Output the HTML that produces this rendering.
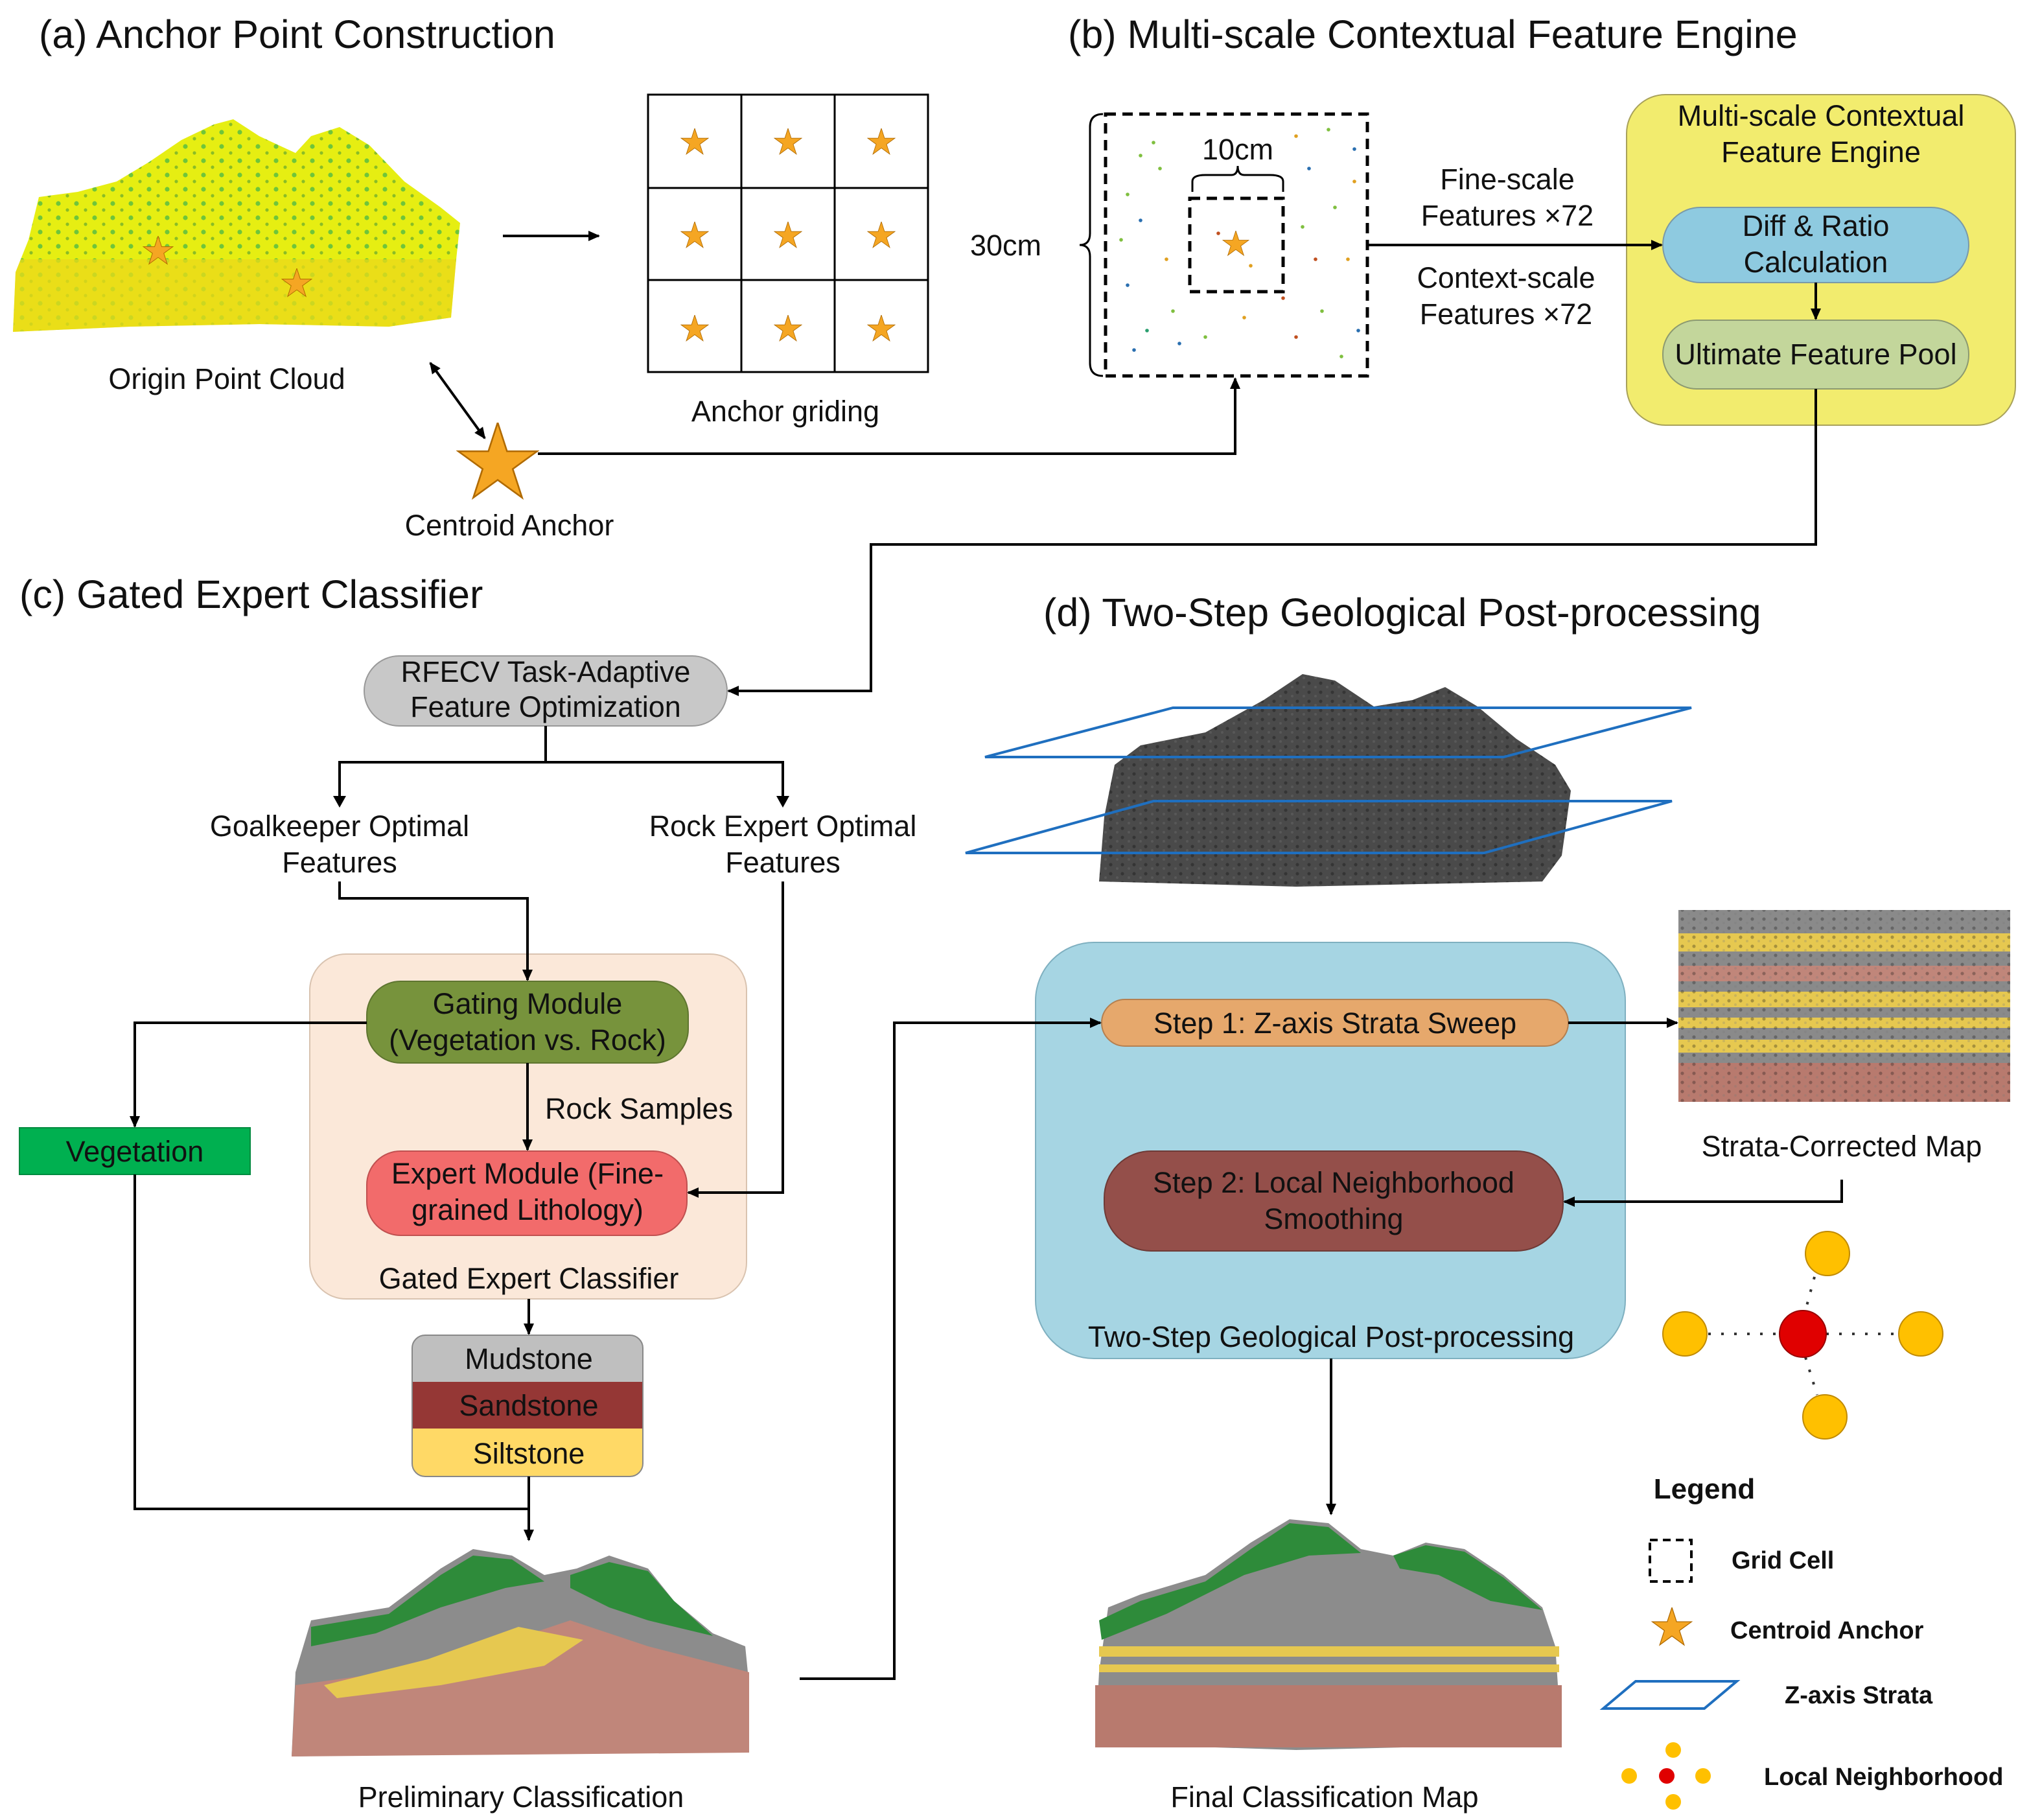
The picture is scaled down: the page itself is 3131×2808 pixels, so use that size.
<!DOCTYPE html>
<html><head><meta charset="utf-8"><style>
html,body{margin:0;padding:0;background:#fff}
svg{display:block}
text{font-family:"Liberation Sans",Arial,sans-serif;fill:#111}
</style></head><body>
<svg width="3131" height="2808" viewBox="0 0 1565.5 1404" xmlns="http://www.w3.org/2000/svg">
<defs>
<marker id="ar" markerWidth="10" markerHeight="10" refX="8" refY="5" orient="auto" markerUnits="userSpaceOnUse"><path d="M0,1 L9,5 L0,9 z" fill="#000"/></marker>
<marker id="ars" markerWidth="10" markerHeight="10" refX="2" refY="5" orient="auto" markerUnits="userSpaceOnUse"><path d="M10,1 L1,5 L10,9 z" fill="#000"/></marker>
<symbol id="star" viewBox="-1 -1 2 2"><path d="M0,-1 L0.2245,-0.309 L0.951,-0.309 L0.363,0.118 L0.588,0.809 L0,0.382 L-0.588,0.809 L-0.363,0.118 L-0.951,-0.309 L-0.2245,-0.309 Z" fill="#f5a623" stroke="#b06a00" stroke-width="0.04"/></symbol>
<pattern id="speck" width="14" height="11" patternUnits="userSpaceOnUse"><circle cx="3" cy="3" r="1.8" fill="#3cb44b" opacity=".7"/><circle cx="10" cy="8" r="1.3" fill="#2e8b3a" opacity=".5"/></pattern>
<pattern id="dspeck" width="9" height="7" patternUnits="userSpaceOnUse"><circle cx="2" cy="2" r="1.3" fill="#111" opacity=".6"/><circle cx="7" cy="5" r="1" fill="#777" opacity=".5"/></pattern>
<clipPath id="dcl"><path d="M848,680 L852,630 L860,590 L880,575 L930,565 L975,540 L1005,520 L1030,525 L1060,545 L1090,540 L1115,530 L1140,545 L1170,570 L1200,590 L1212,610 L1205,660 L1190,680 L1000,684 Z"/></clipPath>
<clipPath id="acl"><path d="M10,256 L12,210 L22,185 L30,152 L60,148 L90,140 L115,125 L140,108 L165,96 L180,92 L200,105 L215,112 L228,118 L240,105 L262,98 L285,112 L312,140 L340,160 L355,172 L352,200 L348,245 L300,252 L200,250 L100,252 Z"/></clipPath>
</defs>

<!-- titles -->
<text x="30" y="37" font-size="30.5">(a) Anchor Point Construction</text>
<text x="824" y="37" font-size="30.5">(b) Multi-scale Contextual Feature Engine</text>
<text x="15" y="469" font-size="30.5">(c) Gated Expert Classifier</text>
<text x="805" y="483" font-size="30.5">(d)  Two-Step Geological Post-processing</text>

<!-- (a) origin cloud -->
<g clip-path="url(#acl)">
<rect x="0" y="80" width="360" height="180" fill="#e6ee12"/>
<rect x="0" y="200" width="360" height="60" fill="#ecd21e" opacity=".55"/>
<rect x="0" y="80" width="360" height="120" fill="url(#speck)"/>
<rect x="0" y="200" width="360" height="60" fill="url(#speck)" opacity=".25"/>
</g>
<use href="#star" x="110" y="182" width="24" height="24"/>
<use href="#star" x="217" y="207" width="24" height="24"/>
<text x="175" y="300" font-size="22.5" text-anchor="middle">Origin Point Cloud</text>

<!-- grid -->
<g stroke="#000" stroke-width="1.5" fill="none">
<rect x="500" y="73" width="216" height="214"/>
<line x1="572" y1="73" x2="572" y2="287"/><line x1="644" y1="73" x2="644" y2="287"/>
<line x1="500" y1="145" x2="716" y2="145"/><line x1="500" y1="216" x2="716" y2="216"/>
</g>
<use href="#star" x="525" y="99" width="22" height="22"/><use href="#star" x="597" y="99" width="22" height="22"/><use href="#star" x="669" y="99" width="22" height="22"/>
<use href="#star" x="525" y="171" width="22" height="22"/><use href="#star" x="597" y="171" width="22" height="22"/><use href="#star" x="669" y="171" width="22" height="22"/>
<use href="#star" x="525" y="243" width="22" height="22"/><use href="#star" x="597" y="243" width="22" height="22"/><use href="#star" x="669" y="243" width="22" height="22"/>
<text x="606" y="325" font-size="22.5" text-anchor="middle">Anchor griding</text>

<use href="#star" x="352" y="326" width="64" height="64"/>
<text x="393" y="413" font-size="22.5" text-anchor="middle">Centroid Anchor</text>

<!-- (b) -->
<text x="776" y="197" font-size="22.5" text-anchor="middle">30cm</text>
<path d="M851,88 Q841,88 841,98 L841,180 Q841,189 833,189 Q841,189 841,198 L841,280 Q841,290 851,290" fill="none" stroke="#000" stroke-width="1.5"/>
<rect x="853" y="88" width="202" height="202" fill="none" stroke="#000" stroke-width="2.5" stroke-dasharray="8,5"/>
<g fill="#7fbf3f">
<circle cx="870" cy="150" r="1.4"/><circle cx="880" cy="170" r="1.4" fill="#2a6fb0"/><circle cx="895" cy="130" r="1.4"/><circle cx="900" cy="200" r="1.4" fill="#e0a020"/><circle cx="905" cy="240" r="1.4"/><circle cx="870" cy="220" r="1.4" fill="#2a6fb0"/><circle cx="885" cy="255" r="1.4" fill="#2a9f6f"/><circle cx="1010" cy="130" r="1.4" fill="#2a6fb0"/><circle cx="1030" cy="160" r="1.4"/><circle cx="1040" cy="200" r="1.4" fill="#e0a020"/><circle cx="1020" cy="240" r="1.4"/><circle cx="1000" cy="260" r="1.4" fill="#c05020"/><circle cx="960" cy="245" r="1.4" fill="#e0a020"/><circle cx="930" cy="260" r="1.4"/><circle cx="1045" cy="115" r="1.4" fill="#2a6fb0"/><circle cx="1015" cy="200" r="1.4" fill="#c05020"/><circle cx="940" cy="180" r="1.4" fill="#c05020"/><circle cx="965" cy="205" r="1.4" fill="#e0a020"/><circle cx="875" cy="270" r="1.4" fill="#2a6fb0"/><circle cx="1035" cy="275" r="1.4"/><circle cx="890" cy="110" r="1.4"/><circle cx="1000" cy="105" r="1.4" fill="#e0a020"/>
<circle cx="880" cy="120" r="1.4"/><circle cx="1025" cy="100" r="1.4"/><circle cx="1045" cy="140" r="1.4" fill="#e0a020"/><circle cx="1005" cy="175" r="1.4"/><circle cx="910" cy="265" r="1.4" fill="#2a6fb0"/><circle cx="990" cy="230" r="1.4" fill="#c05020"/><circle cx="865" cy="185" r="1.4"/><circle cx="1048" cy="255" r="1.4" fill="#2a6fb0"/>
</g>
<rect x="918" y="153" width="72" height="72" fill="none" stroke="#000" stroke-width="2.5" stroke-dasharray="8,5"/>
<path d="M920,148 L920,140 Q920,135 930,135 L950,135 Q955,135 955,128 Q955,135 960,135 L980,135 Q990,135 990,140 L990,148" fill="none" stroke="#000" stroke-width="1.5"/>
<text x="955" y="123" font-size="22.5" text-anchor="middle">10cm</text>
<use href="#star" x="943" y="178" width="21" height="21"/>
<text x="1163" y="146" font-size="22.5" text-anchor="middle">Fine-scale</text>
<text x="1163" y="174" font-size="22.5" text-anchor="middle">Features ×72</text>
<text x="1162" y="222" font-size="22.5" text-anchor="middle">Context-scale</text>
<text x="1162" y="250" font-size="22.5" text-anchor="middle">Features ×72</text>

<rect x="1255" y="73" width="300" height="255" rx="30" fill="#f2ec6e" stroke="#a8a15a" stroke-width="1"/>
<text x="1405" y="97" font-size="22.5" text-anchor="middle">Multi-scale Contextual</text>
<text x="1405" y="125" font-size="22.5" text-anchor="middle">Feature Engine</text>
<rect x="1283" y="160" width="236" height="58" rx="29" fill="#8ecae0" stroke="#7a9aa8"/>
<text x="1401" y="182" font-size="22.5" text-anchor="middle">Diff &amp; Ratio</text>
<text x="1401" y="210" font-size="22.5" text-anchor="middle">Calculation</text>
<rect x="1283" y="247" width="236" height="53" rx="26" fill="#c3d69b" stroke="#8c9a70"/>
<text x="1401" y="281" font-size="22.5" text-anchor="middle">Ultimate Feature Pool</text>

<!-- (c) -->
<rect x="281" y="506" width="280" height="54" rx="27" fill="#c8c8c8" stroke="#999"/>
<text x="421" y="526" font-size="22.5" text-anchor="middle">RFECV Task-Adaptive</text>
<text x="421" y="553" font-size="22.5" text-anchor="middle">Feature Optimization</text>
<text x="262" y="645" font-size="22.5" text-anchor="middle">Goalkeeper Optimal</text>
<text x="262" y="673" font-size="22.5" text-anchor="middle">Features</text>
<text x="604" y="645" font-size="22.5" text-anchor="middle">Rock Expert Optimal</text>
<text x="604" y="673" font-size="22.5" text-anchor="middle">Features</text>

<rect x="239" y="736" width="337" height="266" rx="28" fill="#fbe8d9" stroke="#d9c3b0"/>
<rect x="283" y="757" width="248" height="63" rx="26" fill="#77933c" stroke="#5e7530"/>
<text x="407" y="782" font-size="22.5" text-anchor="middle">Gating Module</text>
<text x="407" y="810" font-size="22.5" text-anchor="middle">(Vegetation vs. Rock)</text>
<text x="493" y="863" font-size="22.5" text-anchor="middle">Rock Samples</text>
<rect x="283" y="888" width="247" height="65" rx="26" fill="#f26b6b" stroke="#c05050"/>
<text x="407" y="913" font-size="22.5" text-anchor="middle">Expert Module (Fine-</text>
<text x="407" y="941" font-size="22.5" text-anchor="middle">grained Lithology)</text>
<text x="408" y="994" font-size="22.5" text-anchor="middle">Gated Expert Classifier</text>

<rect x="15" y="870" width="178" height="36" fill="#00b050" stroke="#008a3e"/>
<text x="104" y="896" font-size="22.5" text-anchor="middle">Vegetation</text>

<clipPath id="stk"><rect x="318" y="1030" width="178" height="109" rx="10"/></clipPath>
<g clip-path="url(#stk)">
<rect x="318" y="1030" width="178" height="36" fill="#bfbfbf"/>
<rect x="318" y="1066" width="178" height="36" fill="#953735"/>
<rect x="318" y="1102" width="178" height="37" fill="#ffd966"/>
</g>
<rect x="318" y="1030" width="178" height="109" rx="10" fill="none" stroke="#888"/>
<text x="408" y="1056" font-size="22.5" text-anchor="middle">Mudstone</text>
<text x="408" y="1092" font-size="22.5" text-anchor="middle">Sandstone</text>
<text x="408" y="1129" font-size="22.5" text-anchor="middle">Siltstone</text>

<!-- preliminary cloud -->
<path d="M225,1355 L228,1290 L240,1250 L270,1245 L300,1240 L340,1210 L365,1195 L395,1200 L420,1215 L445,1210 L470,1200 L500,1210 L520,1235 L550,1260 L575,1270 L578,1300 L575,1350 L400,1352 Z" fill="#8c8c8c"/>
<path d="M228,1300 L300,1290 L380,1270 L440,1250 L500,1270 L578,1290 L578,1352 L225,1355 Z" fill="#c0867a"/>
<path d="M250,1300 L330,1280 L400,1255 L450,1265 L420,1285 L340,1300 L260,1310 Z" fill="#e6c850"/>
<path d="M240,1255 L300,1245 L340,1215 L365,1200 L395,1203 L420,1220 L390,1225 L340,1240 L290,1260 L240,1270 Z" fill="#2e8b3a"/>
<path d="M440,1215 L470,1205 L500,1212 L520,1235 L550,1262 L500,1250 L470,1240 L440,1225 Z" fill="#2e8b3a"/>
<text x="402" y="1394" font-size="22.5" text-anchor="middle">Preliminary Classification</text>

<!-- (d) dark cloud -->
<g clip-path="url(#dcl)">
<rect x="845" y="515" width="370" height="172" fill="#4a4a4a"/>
<rect x="845" y="515" width="370" height="172" fill="url(#dspeck)" opacity=".6"/>
</g>
<polygon points="760,584 905,546 1305,546 1160,584" fill="none" stroke="#1f6fbf" stroke-width="2"/>
<polygon points="745,658 890,618 1290,618 1145,658" fill="none" stroke="#1f6fbf" stroke-width="2"/>

<rect x="799" y="727" width="455" height="321" rx="45" fill="#a6d5e3" stroke="#7fb0c0"/>
<rect x="850" y="771" width="360" height="36" rx="18" fill="#e6a86c" stroke="#b58050"/>
<text x="1030" y="797" font-size="22.5" text-anchor="middle">Step 1: Z-axis Strata Sweep</text>
<rect x="852" y="888" width="354" height="77" rx="36" fill="#944f4a" stroke="#6e3a36"/>
<text x="1029" y="920" font-size="22.5" text-anchor="middle">Step 2: Local Neighborhood</text>
<text x="1029" y="948" font-size="22.5" text-anchor="middle">Smoothing</text>
<text x="1027" y="1039" font-size="22.5" text-anchor="middle">Two-Step Geological Post-processing</text>

<!-- strata map -->
<rect x="1295" y="702" width="256" height="148" fill="#8a8a8a"/>
<rect x="1295" y="720" width="256" height="14" fill="#e6c850"/>
<rect x="1295" y="745" width="256" height="12" fill="#c0867a"/>
<rect x="1295" y="765" width="256" height="12" fill="#e6c850"/>
<rect x="1295" y="785" width="256" height="8" fill="#e6c850"/>
<rect x="1295" y="802" width="256" height="10" fill="#e6c850"/>
<rect x="1295" y="820" width="256" height="30" fill="#b87a6e"/>
<rect x="1295" y="702" width="256" height="148" fill="url(#dspeck)" opacity=".5"/>
<text x="1421" y="892" font-size="22.5" text-anchor="middle">Strata-Corrected Map</text>

<!-- neighborhood -->
<g stroke="#333" stroke-width="2" stroke-dasharray="2,8">
<line x1="1318" y1="1029" x2="1373" y2="1029"/><line x1="1409" y1="1029" x2="1465" y2="1029"/>
<line x1="1400" y1="985" x2="1393" y2="1011"/><line x1="1393" y1="1047" x2="1402" y2="1076"/>
</g>
<g fill="#ffc000" stroke="#c08a00">
<circle cx="1410" cy="967" r="17"/><circle cx="1300" cy="1029" r="17"/><circle cx="1482" cy="1029" r="17"/><circle cx="1408" cy="1093" r="17"/>
</g>
<circle cx="1391" cy="1029" r="18" fill="#e00000" stroke="#900"/>

<!-- final cloud -->
<path d="M845,1345 L848,1290 L855,1240 L880,1230 L930,1215 L965,1190 L995,1172 L1025,1175 L1050,1195 L1075,1200 L1100,1190 L1130,1195 L1160,1215 L1190,1240 L1200,1270 L1205,1345 L1000,1350 Z" fill="#8c8c8c"/>
<rect x="845" y="1300" width="360" height="48" fill="#b87a6e"/>
<rect x="848" y="1270" width="355" height="8" fill="#e6c850"/>
<rect x="848" y="1284" width="355" height="6" fill="#e6c850"/>
<path d="M848,1250 L880,1235 L930,1220 L965,1195 L995,1175 L1025,1178 L1050,1198 L1010,1200 L960,1215 L900,1245 L850,1265 Z" fill="#2e8b3a"/>
<path d="M1075,1200 L1100,1192 L1130,1197 L1160,1217 L1190,1242 L1150,1235 L1110,1215 L1080,1210 Z" fill="#2e8b3a"/>
<text x="1022" y="1394" font-size="22.5" text-anchor="middle">Final Classification Map</text>

<!-- legend -->
<text x="1315" y="1156" font-size="22" font-weight="bold" text-anchor="middle">Legend</text>
<rect x="1273" y="1188" width="32" height="32" fill="none" stroke="#000" stroke-width="2" stroke-dasharray="6,4"/>
<text x="1336" y="1210" font-size="19" font-weight="bold">Grid Cell</text>
<use href="#star" x="1274" y="1240" width="32" height="32"/>
<text x="1335" y="1264" font-size="19" font-weight="bold">Centroid Anchor</text>
<polygon points="1237,1318 1262,1297 1340,1297 1315,1318" fill="none" stroke="#1f6fbf" stroke-width="2"/>
<text x="1377" y="1314" font-size="19" font-weight="bold">Z-axis Strata</text>
<g fill="#ffc000"><circle cx="1291" cy="1350" r="6"/><circle cx="1257" cy="1370" r="6"/><circle cx="1314" cy="1370" r="6"/><circle cx="1291" cy="1390" r="6"/></g>
<circle cx="1286" cy="1370" r="6" fill="#e00000"/>
<text x="1361" y="1377" font-size="19" font-weight="bold">Local Neighborhood</text>

<!-- connectors (on top) -->
<g fill="none" stroke="#000" stroke-width="2">
<line x1="388" y1="182" x2="462" y2="182" marker-end="url(#ar)"/>
<line x1="332" y1="280" x2="374" y2="338" marker-start="url(#ars)" marker-end="url(#ar)"/>
<polyline points="415,350 953,350 953,292" marker-end="url(#ar)"/>
<line x1="1055" y1="189" x2="1282" y2="189" marker-end="url(#ar)"/>
<line x1="1401" y1="218" x2="1401" y2="246" marker-end="url(#ar)"/>
<polyline points="1401,300 1401,420 672,420 672,533 562,533" marker-end="url(#ar)"/>
<polyline points="421,560 421,588"/>
<polyline points="262,621 262,588 604,588 604,621" />
<polyline points="262,680 262,693 407,693 407,756" marker-end="url(#ar)"/>
<polyline points="604,680 604,920 531,920" marker-end="url(#ar)"/>
<line x1="407" y1="820" x2="407" y2="887" marker-end="url(#ar)"/>
<polyline points="283,789 104,789 104,869" marker-end="url(#ar)"/>
<polyline points="104,906 104,1164 408,1164"/>
<line x1="408" y1="1002" x2="408" y2="1029" marker-end="url(#ar)"/>
<line x1="408" y1="1139" x2="408" y2="1188" marker-end="url(#ar)"/>
<polyline points="617,1295 690,1295 690,789 849,789" marker-end="url(#ar)"/>
<line x1="1210" y1="789" x2="1294" y2="789" marker-end="url(#ar)"/>
<polyline points="1421,910 1421,927 1207,927" marker-end="url(#ar)"/>
<line x1="1027" y1="1048" x2="1027" y2="1168" marker-end="url(#ar)"/>
</g>
<path d="M257,614 L262,623 L267,614 Z M599,614 L604,623 L609,614 Z" fill="#000"/>
</svg>
</body></html>
